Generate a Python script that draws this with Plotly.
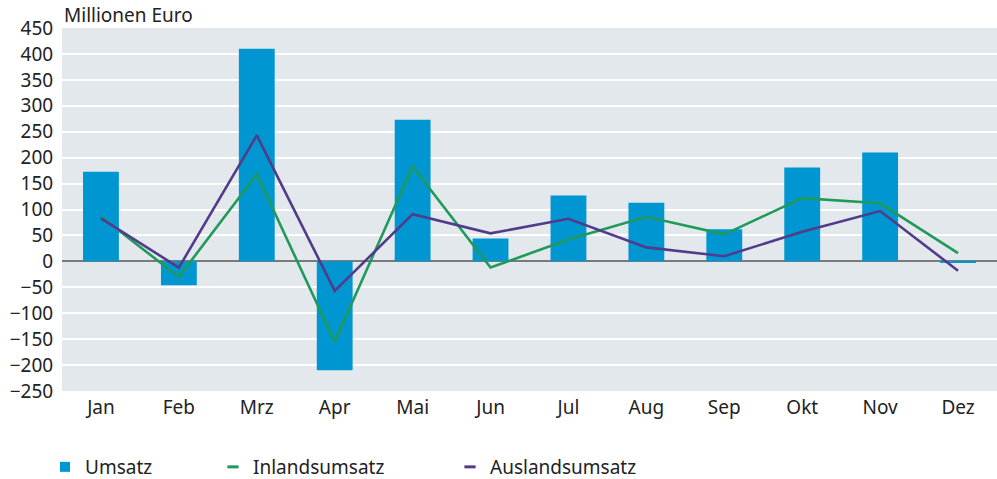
import plotly.graph_objects as go

months = ["Jan", "Feb", "Mrz", "Apr", "Mai", "Jun", "Jul", "Aug", "Sep", "Okt", "Nov", "Dez"]
umsatz = [173, -46, 410, -210, 273, 44, 127, 113, 62, 181, 210, -3]
inland = [86, -30, 168, -155, 183, -12, 42, 86, 52, 122, 112, 16]
ausland = [83, -12, 243, -57, 91, 54, 82, 27, 10, 57, 97, -18]
y_ticks = list(range(-250, 451, 50))

C_BAR = "#0096d1"
C_IN = "#1f9a5b"
C_AUS = "#513b8a"
FONT = "Noto Sans"
FS = 19

fig = go.Figure()
fig.add_trace(go.Bar(x=months, y=umsatz, marker=dict(color=C_BAR, line=dict(width=0)),
                     showlegend=False, name="Umsatz"))
fig.add_trace(go.Scatter(x=months, y=inland, mode="lines", line=dict(color=C_IN, width=2.6),
                         showlegend=False, name="Inlandsumsatz"))
fig.add_trace(go.Scatter(x=months, y=ausland, mode="lines", line=dict(color=C_AUS, width=2.6),
                         showlegend=False, name="Auslandsumsatz"))

# legend-only entries
fig.add_trace(go.Scatter(x=[None], y=[None], mode="markers", name="Umsatz", legend="legend",
                         marker=dict(symbol="square", size=10, color=C_BAR)))
fig.add_trace(go.Scatter(x=[None], y=[None], mode="markers", name="Inlandsumsatz", legend="legend2",
                         marker=dict(symbol="line-ew", size=8, line=dict(color=C_IN, width=3))))
fig.add_trace(go.Scatter(x=[None], y=[None], mode="markers", name="Auslandsumsatz", legend="legend3",
                         marker=dict(symbol="line-ew", size=8, line=dict(color=C_AUS, width=3))))

PW = 935.0
PH = 363.0
leg_y = (391 - 467) / PH
def lx(text_px):
    return (text_px - 40 - 62) / PW

legfont = dict(family=FONT, size=FS, color="#222222")
fig.update_layout(
    width=997, height=479,
    margin=dict(l=62, r=0, t=28, b=88, autoexpand=False),
    paper_bgcolor="white",
    plot_bgcolor="#e3e8ec",
    font=dict(family=FONT, size=FS, color="#222222"),
    bargap=0.54,
    xaxis=dict(type="category", range=[-0.5, 11.5], showgrid=False, ticks="", showline=False,
               automargin=False, ticklabelstandoff=3,
               tickfont=dict(family=FONT, size=FS, color="#222222")),
    yaxis=dict(range=[-250, 450], tickvals=y_ticks,
               ticktext=[str(v).replace("-", "\u2212") for v in y_ticks],
               showgrid=True, gridcolor="white", gridwidth=2,
               zeroline=True, zerolinecolor="#7a7a7a", zerolinewidth=2,
               ticks="outside", ticklen=4, tickcolor="rgba(0,0,0,0)", showline=False,
               automargin=False,
               tickfont=dict(family=FONT, size=FS, color="#222222")),
    legend=dict(x=lx(85), y=leg_y, xanchor="left", yanchor="middle", orientation="h",
                font=legfont, bgcolor="rgba(0,0,0,0)"),
    legend2=dict(x=lx(253), y=leg_y, xanchor="left", yanchor="middle", orientation="h",
                 font=legfont, bgcolor="rgba(0,0,0,0)"),
    legend3=dict(x=lx(490), y=leg_y, xanchor="left", yanchor="middle", orientation="h",
                 font=legfont, bgcolor="rgba(0,0,0,0)"),
    annotations=[dict(text="Millionen Euro", xref="paper", yref="paper", x=0, y=1 + (28 - 15) / PH,
                      xanchor="left", yanchor="middle", showarrow=False,
                      font=dict(family=FONT, size=FS, color="#222222"))],
)

fig.write_html("out.html", config={"displayModeBar": False},
               post_script="document.body.style.margin='0';document.body.style.padding='0';")
